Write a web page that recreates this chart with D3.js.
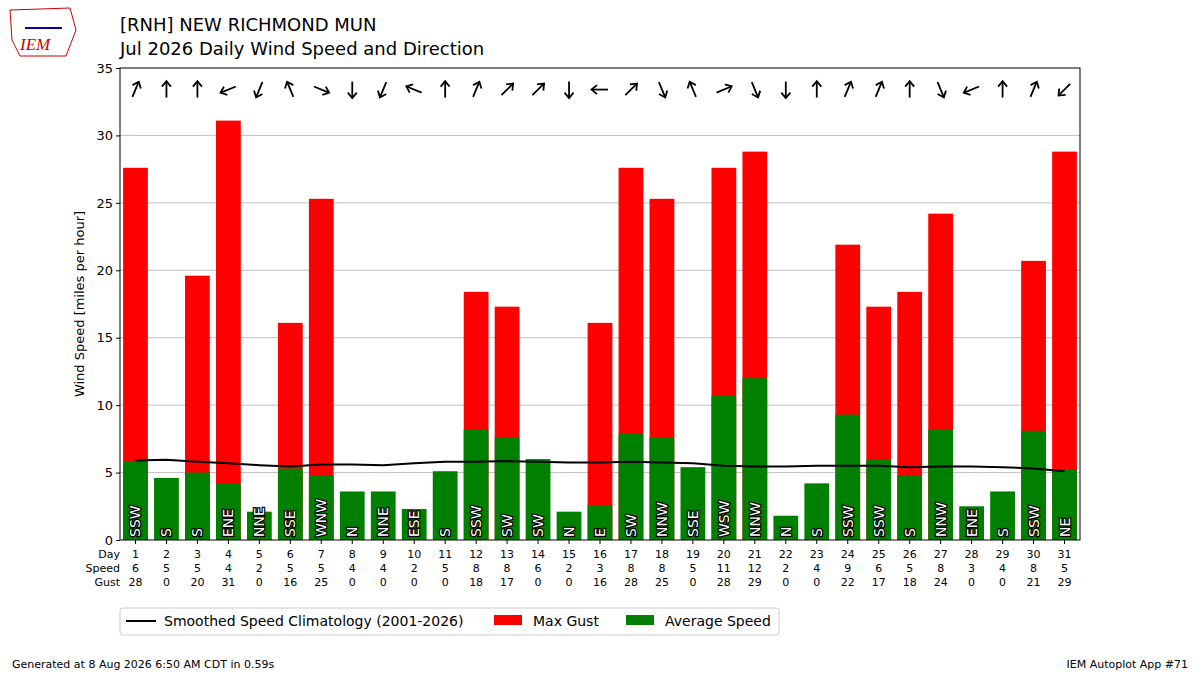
<!DOCTYPE html>
<html><head><meta charset="utf-8">
<script src="https://cdn.jsdelivr.net/npm/d3@7"></script>
<style>body{margin:0;background:#fff;font-family:"DejaVu Sans",sans-serif;}</style>
</head><body><div id="chart"></div>
<script>
let days = d3.range(1, 32);
let avgSpeed = [5.8,4.6,5.0,4.2,2.1,5.3,4.8,3.6,3.6,2.3,5.1,8.2,7.6,6.0,2.1,2.6,7.9,7.6,5.4,10.7,12.0,1.8,4.2,9.3,6.0,4.8,8.2,2.5,3.6,8.1,5.2];
let maxGust = [27.6,0,19.6,31.1,0,16.1,25.3,0,0,0,0,18.4,17.3,0,0,16.1,27.6,25.3,0,27.6,28.8,0,0,21.9,17.3,18.4,24.2,0,0,20.7,28.8];
let speedLabels = [6,5,5,4,2,5,5,4,4,2,5,8,8,6,2,3,8,8,5,11,12,2,4,9,6,5,8,3,4,8,5];
let gustLabels = [28,0,20,31,0,16,25,0,0,0,0,18,17,0,0,16,28,25,0,28,29,0,0,22,17,18,24,0,0,21,29];
let dirs = ['SSW','S','S','ENE','NNE','SSE','WNW','N','NNE','ESE','S','SSW','SW','SW','N','E','SW','NNW','SSE','WSW','NNW','N','S','SSW','SSW','S','NNW','ENE','S','SSW','NE'];
let climo = [5.9,5.95,5.8,5.7,5.55,5.45,5.6,5.6,5.55,5.7,5.8,5.8,5.85,5.8,5.75,5.75,5.8,5.75,5.7,5.5,5.45,5.45,5.5,5.5,5.5,5.4,5.45,5.45,5.4,5.3,5.1];
let compass = ['N','NNE','NE','ENE','E','ESE','SE','SSE','S','SSW','SW','WSW','W','WNW','NW','NNW'];

let W = 1200, H = 675;
let m = {top: 68, left: 120, right: 1080, bottom: 540};
let svg = d3.select('#chart').append('svg').attr('width', W).attr('height', H)
    .style('font-family', '"DejaVu Sans",sans-serif');

let x = d3.scaleBand().domain(days).range([m.left, m.right]).paddingInner(0.2).paddingOuter(0.1);
let y = d3.scaleLinear().domain([0, 35]).range([m.bottom, m.top]);

// grid
svg.append('g').selectAll('line').data(d3.range(5, 35, 5)).enter().append('line')
    .attr('x1', m.left).attr('x2', m.right).attr('y1', d => y(d)).attr('y2', d => y(d))
    .attr('stroke', '#b0b0b0').attr('stroke-width', 0.8);

// bars
svg.append('g').selectAll('rect').data(days).enter().append('rect')
    .attr('x', d => x(d)).attr('width', x.bandwidth())
    .attr('y', (d, i) => y(maxGust[i])).attr('height', (d, i) => y(0) - y(maxGust[i]))
    .attr('fill', 'red');
svg.append('g').selectAll('rect').data(days).enter().append('rect')
    .attr('x', d => x(d)).attr('width', x.bandwidth())
    .attr('y', (d, i) => y(avgSpeed[i])).attr('height', (d, i) => y(0) - y(avgSpeed[i]))
    .attr('fill', 'green');

// direction labels in bars
svg.append('g').selectAll('text').data(days).enter().append('text')
    .attr('transform', d => `translate(${x(d) + x.bandwidth() / 2 + 5},${y(0) - 3}) rotate(-90)`)
    .attr('font-size', 14).attr('fill', 'white').attr('stroke', 'black').attr('stroke-width', 2.5)
    .attr('paint-order', 'stroke')
    .text((d, i) => dirs[i]);

// climatology line
svg.append('path').datum(climo)
    .attr('d', d3.line().x((d, i) => x(days[i]) + x.bandwidth() / 2).y(d => y(d)))
    .attr('fill', 'none').attr('stroke', 'black').attr('stroke-width', 2);

// arrows
let arrows = svg.append('g').selectAll('g').data(days).enter().append('g')
    .attr('transform', (d, i) => `translate(${x(d) + x.bandwidth() / 2},${y(33.4)}) rotate(${compass.indexOf(dirs[i]) * 22.5 + 180})`);
arrows.append('line').attr('x1', 0).attr('x2', 0).attr('y1', 8).attr('y2', -8)
    .attr('stroke', 'black').attr('stroke-width', 1.8);
arrows.append('path').attr('d', 'M-4.5,-3 L0,-8.5 L4.5,-3').attr('fill', 'none')
    .attr('stroke', 'black').attr('stroke-width', 1.8);

// frame
svg.append('rect').attr('x', m.left).attr('y', m.top).attr('width', m.right - m.left)
    .attr('height', m.bottom - m.top).attr('fill', 'none').attr('stroke', 'black');

// y axis
let ya = svg.append('g').attr('transform', `translate(${m.left},0)`)
    .call(d3.axisLeft(y).tickValues(d3.range(0, 36, 5)).tickSize(4).tickSizeOuter(0));
ya.select('.domain').remove();
ya.selectAll('text').attr('font-size', 13).attr('font-family', '"DejaVu Sans",sans-serif').attr('fill', 'black');
svg.append('text').attr('transform', `translate(84,${(m.top + m.bottom) / 2}) rotate(-90)`)
    .attr('text-anchor', 'middle').attr('font-size', 13).text('Wind Speed [miles per hour]');

// x ticks and table
svg.append('g').selectAll('line').data(days).enter().append('line')
    .attr('x1', d => x(d) + x.bandwidth() / 2).attr('x2', d => x(d) + x.bandwidth() / 2)
    .attr('y1', m.bottom).attr('y2', m.bottom + 4).attr('stroke', 'black');
let rows = [['Day', days], ['Speed', speedLabels], ['Gust', gustLabels]];
rows.forEach((r, j) => {
    let yy = 558 + j * 14;
    svg.append('text').attr('x', 120).attr('y', yy).attr('text-anchor', 'end')
        .attr('font-size', 11).text(r[0]);
    svg.append('g').selectAll('text').data(r[1]).enter().append('text')
        .attr('x', (d, i) => x(days[i]) + x.bandwidth() / 2).attr('y', yy)
        .attr('text-anchor', 'middle').attr('font-size', 11).text(d => d);
});

// title
svg.append('text').attr('x', 120).attr('y', 31).attr('font-size', 18).text('[RNH] NEW RICHMOND MUN');
svg.append('text').attr('x', 120).attr('y', 55).attr('font-size', 18).text('Jul 2026 Daily Wind Speed and Direction');

// logo (simplified)
svg.append('path').attr('d', 'M10,10 L70,8 L76,30 L66,56 L20,56 L12,40 Z')
    .attr('fill', 'none').attr('stroke', '#c00').attr('stroke-width', 1);
svg.append('text').attr('x', 20).attr('y', 50).attr('font-size', 17).attr('font-style', 'italic')
    .attr('font-family', 'Liberation Serif, serif').attr('fill', '#c00').text('IEM');
svg.append('line').attr('x1', 25).attr('x2', 62).attr('y1', 28).attr('y2', 28).attr('stroke', '#00a').attr('stroke-width', 2);

// legend
let lg = svg.append('g');
lg.append('rect').attr('x', 120).attr('y', 608).attr('width', 659).attr('height', 27)
    .attr('fill', 'white').attr('stroke', '#ccc').attr('rx', 3);
lg.append('line').attr('x1', 126).attr('x2', 156).attr('y1', 621).attr('y2', 621).attr('stroke', 'black').attr('stroke-width', 2);
lg.append('text').attr('x', 164).attr('y', 626).attr('font-size', 14).text('Smoothed Speed Climatology (2001-2026)');
lg.append('rect').attr('x', 494).attr('y', 615).attr('width', 28).attr('height', 10).attr('fill', 'red');
lg.append('text').attr('x', 533).attr('y', 626).attr('font-size', 14).text('Max Gust');
lg.append('rect').attr('x', 626).attr('y', 615).attr('width', 28).attr('height', 10).attr('fill', 'green');
lg.append('text').attr('x', 665).attr('y', 626).attr('font-size', 14).text('Average Speed');

// footer
svg.append('text').attr('x', 12).attr('y', 668).attr('font-size', 11).text('Generated at 8 Aug 2026 6:50 AM CDT in 0.59s');
svg.append('text').attr('x', 1188).attr('y', 668).attr('font-size', 11).attr('text-anchor', 'end').text('IEM Autoplot App #71');
</script></body></html>
